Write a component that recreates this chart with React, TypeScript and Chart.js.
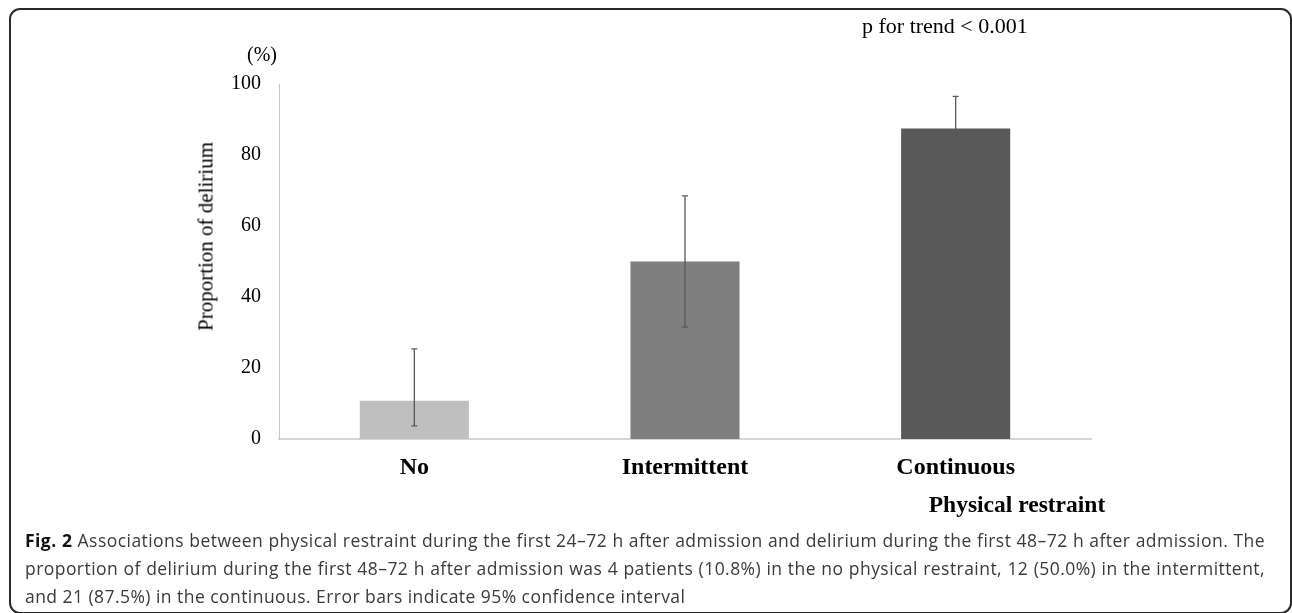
import React, { useEffect, useRef } from "react";
import { Chart, registerables } from "chart.js";

Chart.register(...registerables);

// ---- data ----
const categories = ["No", "Intermittent", "Continuous"];
const proportions = [10.8, 50.0, 87.5];
const ciLower = [3.7, 31.5, 68.5];
const ciUpper = [25.4, 68.5, 96.5];
const barColors = ["#bfbfbf", "#7f7f7f", "#595959"];
const yTickValues = [0, 20, 40, 60, 80, 100];

const yTitle = "Proportion of delirium";
const yUnit = "(%)";
const xTitle = "Physical restraint";
const trendText = "p for trend < 0.001";
const captionLabel = "Fig. 2";
const captionLine1 =
  " Associations between physical restraint during the first 24–72 h after admission and delirium during the first 48–72 h after admission. The";
const captionLine2 =
  "proportion of delirium during the first 48–72 h after admission was 4 patients (10.8%) in the no physical restraint, 12 (50.0%) in the intermittent,";
const captionLine3 =
  "and 21 (87.5%) in the continuous. Error bars indicate 95% confidence interval";

const SERIF = "'Liberation Serif', 'Times New Roman', serif";

const errorBarPlugin = {
  id: "errorBars",
  afterDatasetsDraw(chart: any) {
    const meta = chart.getDatasetMeta(0);
    const yScale = chart.scales.y;
    const ctx = chart.ctx;
    ctx.save();
    ctx.strokeStyle = "#595959";
    ctx.lineWidth = 1.3;
    meta.data.forEach((bar: any, i: number) => {
      const x = bar.x;
      const yLo = yScale.getPixelForValue(ciLower[i]);
      const yHi = yScale.getPixelForValue(ciUpper[i]);
      const cap = 3;
      ctx.beginPath();
      ctx.moveTo(x, yLo);
      ctx.lineTo(x, yHi);
      ctx.moveTo(x - cap, yLo);
      ctx.lineTo(x + cap, yLo);
      ctx.moveTo(x - cap, yHi);
      ctx.lineTo(x + cap, yHi);
      ctx.stroke();
    });
    ctx.restore();
  },
};

export default function App() {
  const canvasRef = useRef<HTMLCanvasElement | null>(null);

  useEffect(() => {
    if (!canvasRef.current) return;
    const chart = new Chart(canvasRef.current, {
      type: "bar",
      data: {
        labels: categories,
        datasets: [
          {
            data: proportions,
            backgroundColor: barColors,
            borderWidth: 0,
            barPercentage: 0.403,
            categoryPercentage: 1,
          },
        ],
      },
      options: {
        animation: false,
        responsive: false,
        maintainAspectRatio: false,
        layout: { padding: { left: 200, right: 201, top: 84, bottom: 31 } },
        plugins: {
          legend: { display: false },
          tooltip: { enabled: false },
        },
        scales: {
          x: {
            grid: { display: false, drawTicks: false },
            border: { display: true, color: "#d6d6d6", width: 2 },
            ticks: {
              color: "#000",
              font: { family: SERIF, size: 24, weight: "bold" },
              padding: 14,
            },
            afterFit: (s: any) => {
              s.height = 60;
            },
          },
          y: {
            min: 0,
            max: 100,
            grid: { display: false, drawTicks: false },
            border: { display: true, color: "#c4c4c4", width: 1 },
            ticks: {
              color: "#000",
              font: { family: SERIF, size: 20 },
              padding: 18,
            },
            afterBuildTicks: (s: any) => {
              s.ticks = yTickValues.map((v) => ({ value: v }));
            },
            afterFit: (s: any) => {
              s.width = 79;
            },
          },
        },
      } as any,
      plugins: [errorBarPlugin],
    });
    return () => chart.destroy();
  }, []);

  const abs = (o: React.CSSProperties): React.CSSProperties => ({
    position: "absolute",
    margin: 0,
    whiteSpace: "nowrap",
    ...o,
  });

  return (
    <div
      style={{
        position: "fixed",
        left: 0,
        top: 0,
        width: 1292,
        height: 613,
        overflow: "hidden",
        background: "#fff",
      }}
    >
      <div
        style={{
          position: "absolute",
          left: 9,
          top: 8,
          width: 1283,
          height: 606,
          boxSizing: "border-box",
          border: "2px solid #2a2a2a",
          borderRadius: 11,
        }}
      />
      <canvas
        ref={canvasRef}
        width={1292}
        height={530}
        style={{ position: "absolute", left: 0, top: 0, width: 1292, height: 530, display: "block" }}
      />
      <div style={abs({ left: 247, top: 44, fontFamily: SERIF, fontSize: 20, lineHeight: "20px", color: "#000" })}>
        {yUnit}
      </div>
      <div style={abs({ left: 862, top: 14.5, fontFamily: SERIF, fontSize: 22, lineHeight: "22px", color: "#000" })}>
        {trendText}
      </div>
      <div
        style={abs({
          left: 55.5,
          top: 226,
          width: 300,
          textAlign: "center",
          fontFamily: SERIF,
          fontSize: 21,
          lineHeight: "21px",
          color: "#000",
          transform: "rotate(-90deg)",
          transformOrigin: "50% 50%",
        })}
      >
        {yTitle}
      </div>
      <div
        style={abs({
          left: 917,
          top: 493,
          width: 200,
          textAlign: "center",
          fontFamily: SERIF,
          fontWeight: "bold",
          fontSize: 23.5,
          lineHeight: "23.5px",
          color: "#000",
        })}
      >
        {xTitle}
      </div>
      <div
        style={{
          position: "absolute",
          left: 25,
          top: 526,
          width: 1240,
          fontFamily: "'Open Sans', 'Noto Sans', sans-serif",
          fontSize: 17.5,
          letterSpacing: "0.45px",
          lineHeight: "28px",
          color: "#3a3a3a",
        }}
      >
        <div style={{ textAlign: "justify", textAlignLast: "justify", whiteSpace: "nowrap" } as any}>
          <b style={{ color: "#111" }}>{captionLabel}</b>
          {captionLine1}
        </div>
        <div style={{ textAlign: "justify", textAlignLast: "justify" } as any}>{captionLine2}</div>
        <div style={{ textAlign: "left" }}>{captionLine3}</div>
      </div>
    </div>
  );
}
